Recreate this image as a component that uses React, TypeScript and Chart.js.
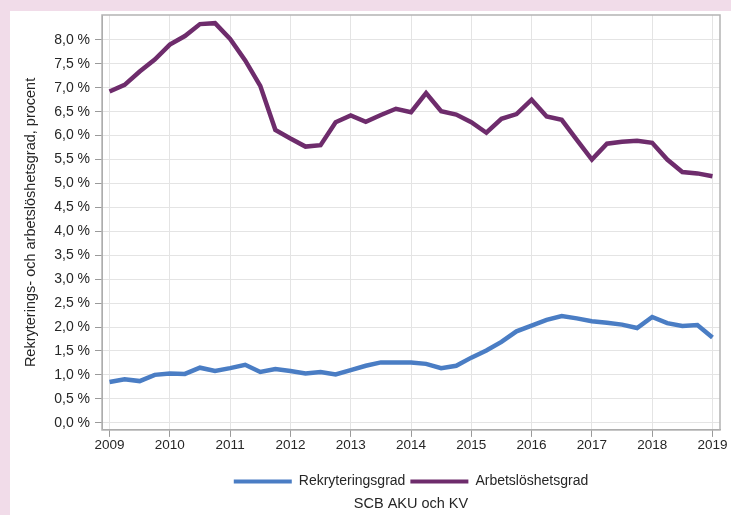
import React, { useEffect, useRef } from 'react';
import { Chart, registerables } from 'chart.js';

Chart.register(...registerables);

const quarterX = [
  2009, 2009.25, 2009.5, 2009.75,
  2010, 2010.25, 2010.5, 2010.75,
  2011, 2011.25, 2011.5, 2011.75,
  2012, 2012.25, 2012.5, 2012.75,
  2013, 2013.25, 2013.5, 2013.75,
  2014, 2014.25, 2014.5, 2014.75,
  2015, 2015.25, 2015.5, 2015.75,
  2016, 2016.25, 2016.5, 2016.75,
  2017, 2017.25, 2017.5, 2017.75,
  2018, 2018.25, 2018.5, 2018.75,
  2019,
];

const rekryteringsgrad = [
  0.85, 0.91, 0.87, 1.0,
  1.03, 1.02, 1.15, 1.08,
  1.14, 1.21, 1.06, 1.12,
  1.08, 1.03, 1.06, 1.01,
  1.1, 1.19, 1.26, 1.26,
  1.26, 1.23, 1.14, 1.19,
  1.36, 1.51, 1.69, 1.91,
  2.03, 2.15, 2.23, 2.18,
  2.12, 2.09, 2.05, 1.98,
  2.21, 2.08, 2.02, 2.04,
  1.78,
];

const arbetsloshetsgrad = [
  6.92, 7.06, 7.34, 7.59,
  7.9, 8.08, 8.33, 8.35,
  8.02, 7.57, 7.04, 6.12,
  5.94, 5.77, 5.8, 6.28,
  6.42, 6.29, 6.43, 6.56,
  6.49, 6.89, 6.51, 6.44,
  6.28, 6.06, 6.35, 6.45,
  6.75, 6.4, 6.33, 5.91,
  5.5, 5.83, 5.87, 5.89,
  5.85, 5.5, 5.24, 5.21,
  5.15,
];

const yearTicks = [2009, 2010, 2011, 2012, 2013, 2014, 2015, 2016, 2017, 2018, 2019];
const percentTicks = [0, 0.5, 1, 1.5, 2, 2.5, 3, 3.5, 4, 4.5, 5, 5.5, 6, 6.5, 7, 7.5, 8];

const seriesNames = ['Rekryteringsgrad', 'Arbetslöshetsgrad'];
const yTitle = 'Rekryterings- och arbetslöshetsgrad, procent';
const sourceText = 'SCB AKU och KV';

const FONT = '"Liberation Sans", Arial, sans-serif';
const TEXT = '#262626';

const frameBorder = {
  id: 'frameBorder',
  afterDatasetsDraw(chart: any) {
    const { ctx, chartArea } = chart;
    ctx.save();
    ctx.strokeStyle = '#b4b4b4';
    ctx.lineWidth = 1.5;
    ctx.beginPath();
    ctx.moveTo(chartArea.left, chartArea.top);
    ctx.lineTo(chartArea.right, chartArea.top);
    ctx.lineTo(chartArea.right, chartArea.bottom);
    ctx.lineTo(chartArea.left, chartArea.bottom);
    ctx.closePath();
    ctx.stroke();
    ctx.restore();
  },
};

export default function App() {
  const ref = useRef<HTMLCanvasElement | null>(null);

  useEffect(() => {
    if (!ref.current) return;
    const toPoints = (vals: number[]) => vals.map((v, i) => ({ x: quarterX[i], y: v }));
    const chart = new Chart(ref.current, {
      type: 'line',
      data: {
        datasets: [
          {
            label: seriesNames[0],
            data: toPoints(rekryteringsgrad),
            borderColor: '#4a7dc4',
            backgroundColor: '#4a7dc4',
            borderWidth: 4.5,
            pointRadius: 0,
            tension: 0,
          },
          {
            label: seriesNames[1],
            data: toPoints(arbetsloshetsgrad),
            borderColor: '#6e2c6c',
            backgroundColor: '#6e2c6c',
            borderWidth: 4.5,
            pointRadius: 0,
            tension: 0,
          },
        ],
      },
      options: {
        animation: false,
        responsive: false,
        maintainAspectRatio: false,
        layout: { padding: { top: 4, right: 11, left: 0, bottom: 2 } },
        scales: {
          x: {
            type: 'linear',
            min: 2008.875,
            max: 2019.125,
            afterBuildTicks: (scale: any) => {
              scale.ticks = yearTicks.map((v) => ({ value: v }));
            },
            afterFit: (scale: any) => {
              scale.height += 16.5;
            },
            ticks: {
              color: TEXT,
              font: { family: FONT, size: 13.5 },
              padding: 0,
              maxRotation: 0,
              autoSkip: false,
              callback: (v: any) => String(v),
            },
            grid: { color: '#e4e4e4', lineWidth: 1, tickLength: 7, tickColor: '#9a9a9a' },
            border: { color: '#9a9a9a', width: 1 },
          },
          y: {
            type: 'linear',
            min: -0.15,
            max: 8.52,
            afterBuildTicks: (scale: any) => {
              scale.ticks = percentTicks.map((v) => ({ value: v }));
            },
            afterFit: (scale: any) => {
              scale.width = 92;
              scale.paddingTop = 0;
              scale.paddingBottom = 0;
            },
            ticks: {
              color: TEXT,
              font: { family: FONT, size: 14 },
              padding: 5,
              autoSkip: false,
              callback: (v: any) => v.toFixed(1).replace('.', ',') + ' %',
            },
            grid: { color: '#e4e4e4', lineWidth: 1, tickLength: 7, tickColor: '#9a9a9a' },
            border: { color: '#9a9a9a', width: 1 },
            title: {
              display: true,
              text: yTitle,
              color: TEXT,
              font: { family: FONT, size: 14.5 },
              padding: { top: 12, bottom: 0 },
            },
          },
        },
        plugins: {
          legend: {
            position: 'bottom',
            fullSize: false,
            labels: {
              color: TEXT,
              font: { family: FONT, size: 14 },
              boxWidth: 58,
              boxHeight: 4,
              padding: 5,
              generateLabels: (chart: any) => {
                const items = Chart.defaults.plugins.legend.labels.generateLabels(chart);
                return items.map((it: any) => ({ ...it, lineWidth: 0 }));
              },
            },
          },
          title: {
            display: true,
            position: 'bottom',
            fullSize: false,
            text: sourceText,
            color: TEXT,
            font: { family: FONT, size: 14.5, weight: 'normal' },
            padding: { top: -3, bottom: 0 },
          } as any,
          tooltip: { enabled: false },
        },
      },
      plugins: [frameBorder],
    });
    return () => chart.destroy();
  }, []);

  return (
    <div style={{ position: 'fixed', left: 0, top: 0, width: 731, height: 515, background: '#f1dce9' }}>
      <div style={{ position: 'absolute', left: 10, top: 11, width: 721, height: 504, background: '#ffffff' }}>
        <canvas ref={ref} width={721} height={504} style={{ display: 'block' }} />
      </div>
    </div>
  );
}
